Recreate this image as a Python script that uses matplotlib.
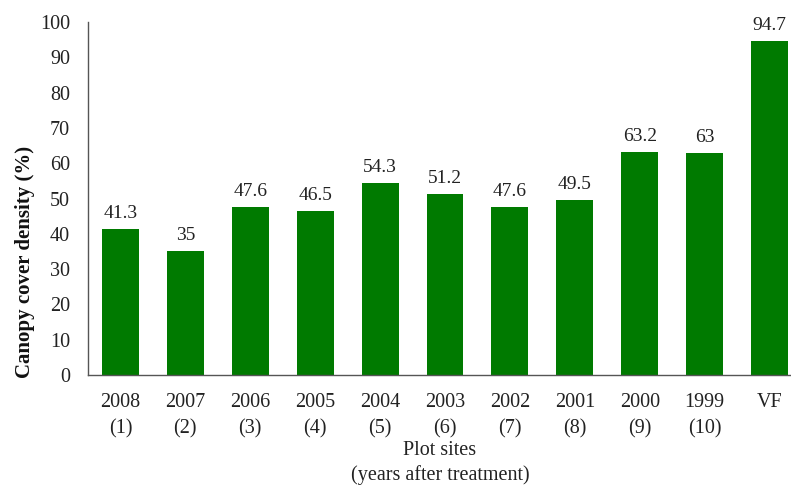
import matplotlib
matplotlib.use("Agg")
import matplotlib.pyplot as plt

categories = ["2008\n(1)", "2007\n(2)", "2006\n(3)", "2005\n(4)", "2004\n(5)", "2003\n(6)",
              "2002\n(7)", "2001\n(8)", "2000\n(9)", "1999\n(10)", "VF"]
values = [41.3, 35, 47.6, 46.5, 54.3, 51.2, 47.6, 49.5, 63.2, 63, 94.7]
value_labels = ["41.3", "35", "47.6", "46.5", "54.3", "51.2", "47.6", "49.5", "63.2", "63", "94.7"]

plt.rcParams['font.family'] = ['Liberation Serif', 'DejaVu Serif']
fig = plt.figure(figsize=(7.91, 4.86), dpi=100)
W, H = 791, 486
ax = fig.add_axes([88 / W, 111 / H, 714 / W, 353 / H])
x = list(range(len(categories)))
bars = ax.bar(x, values, width=0.57, color="#007A00", zorder=2)
for xi, v, lab in zip(x, values, value_labels):
    ax.text(xi, v + 2, lab, ha="center", va="bottom", fontsize=14, color="#222222")
ax.set_xlim(-0.5, 10.5)
ax.set_ylim(0, 100)
ax.set_yticks(range(0, 101, 10))
ax.set_xticks(x)
ax.set_xticklabels(categories, fontsize=14.5, linespacing=1.5)
ax.tick_params(axis="both", length=0, labelsize=14.5, colors="#222222")
ax.tick_params(axis="x", pad=13)
ax.tick_params(axis="y", pad=13)
for s in ["top", "right"]:
    ax.spines[s].set_visible(False)
for s in ["left", "bottom"]:
    ax.spines[s].set_color("#555555")
    ax.spines[s].set_linewidth(1.0)
fig.text(25 / W, 1 - 262 / H, "Canopy cover density (%)", rotation=90, ha="center", va="center",
         fontsize=15, fontweight="bold", color="#111111")
fig.text(440 / W, 1 - 463 / H, "Plot sites\n(years after treatment)", ha="center", va="center",
         fontsize=14.5, linespacing=1.3, color="#222222")
fig.savefig("out.png", dpi=100)
